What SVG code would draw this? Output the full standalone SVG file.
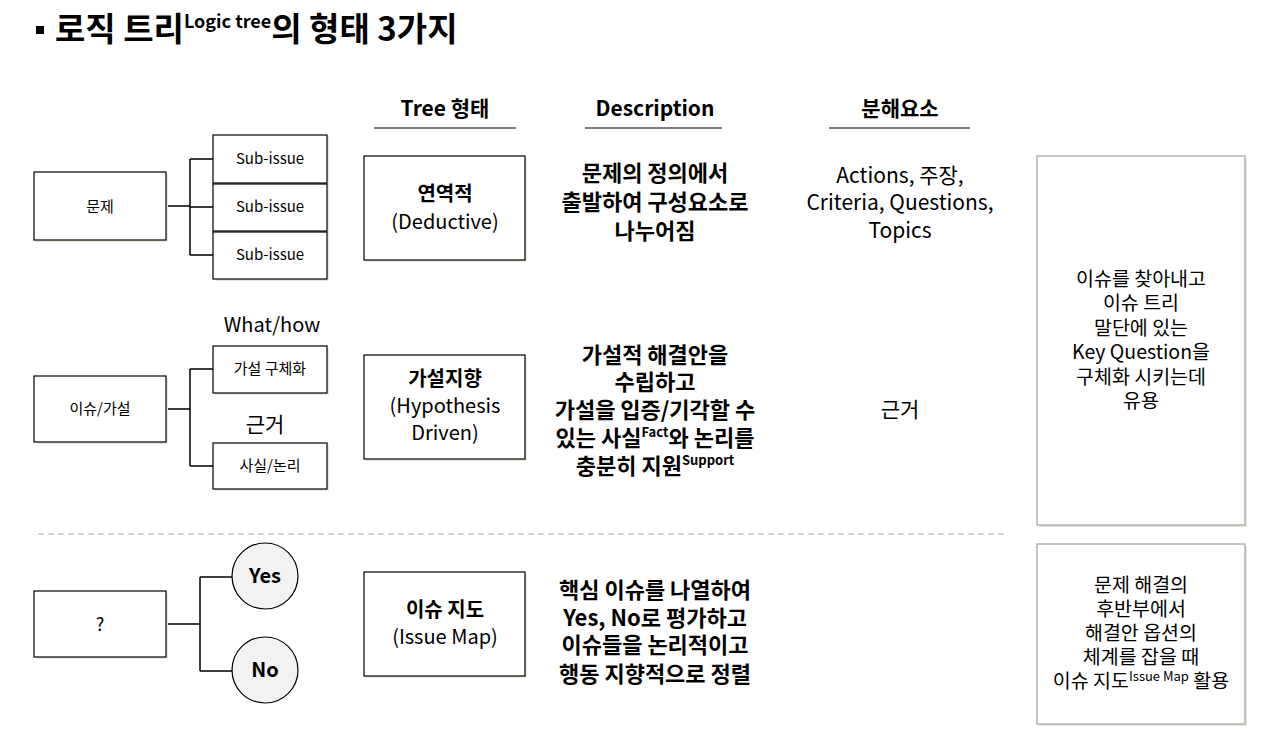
<svg xmlns="http://www.w3.org/2000/svg" width="1280" height="742" viewBox="0 0 1280 742">
<style>
text{font-family:"Noto Sans CJK KR","Noto Sans",sans-serif;fill:#000;text-anchor:middle}
.b{font-weight:bold}
.box{fill:#fff;stroke:#000;stroke-width:1.2}
.sh{fill:#e9e6dc}
.gbox{fill:#fff;stroke:#a0a0a0;stroke-width:1.2}
.ln{fill:none;stroke:#000;stroke-width:1.5}
.s15{font-size:15px}
.s20{font-size:20px}
.s21{font-size:21px}
.s22{font-size:22px}
.s18{font-size:18px}
.s19{font-size:19.5px}
</style>
<rect width="1280" height="742" fill="#fff"/>
<g id="title">
<rect x="36" y="26" width="8" height="8" fill="#000"/>
<text x="55" y="41" class="b" style="font-size:33px;text-anchor:start">로직 트리<tspan style="font-size:18px" dy="-13">Logic tree</tspan><tspan dy="13">의 형태 3가지</tspan></text>
</g>
<g id="headers">
<text x="445" y="116" class="b s21">Tree 형태</text>
<line x1="374" y1="128" x2="516" y2="128" stroke="#000" stroke-width="1.2"/>
<text x="655" y="116" class="b s21">Description</text>
<line x1="585" y1="128" x2="722" y2="128" stroke="#000" stroke-width="1.2"/>
<text x="900" y="116" class="b s21">분해요소</text>
<line x1="829" y1="128" x2="970" y2="128" stroke="#000" stroke-width="1.2"/>
</g>
<g id="connectors">
<path class="ln" d="M166,206H190M190,159V255M190,159H213M190,207H213M190,255H213"/>
<path class="ln" d="M166,409H190M190,369V466M190,369H213M190,466H213"/>
<path class="ln" d="M166,624H200M200,577V671M200,577H232M200,671H232"/>
</g>
<g id="n-munje"><rect class="sh" x="36" y="174" width="132" height="68"/><rect class="box" x="34" y="172" width="132" height="68"/><text x="100" y="212" class="s15">문제</text></g>
<g id="n-sub1"><rect class="sh" x="215" y="137" width="114" height="48"/><rect class="box" x="213" y="135" width="114" height="48"/><text x="270" y="164" class="s15">Sub-issue</text></g>
<g id="n-sub2"><rect class="sh" x="215" y="186" width="114" height="47"/><rect class="box" x="213" y="184" width="114" height="47"/><text x="270" y="212" class="s15">Sub-issue</text></g>
<g id="n-sub3"><rect class="sh" x="215" y="234" width="114" height="47"/><rect class="box" x="213" y="232" width="114" height="47"/><text x="270" y="260" class="s15">Sub-issue</text></g>
<g id="n-issue"><rect class="sh" x="36" y="378" width="132" height="66"/><rect class="box" x="34" y="376" width="132" height="66"/><text x="100" y="414" class="s15">이슈/가설</text></g>
<g id="lbl-whathow"><text x="272" y="332" class="s20">What/how</text></g>
<g id="n-hyp"><rect class="sh" x="215" y="348" width="114" height="47"/><rect class="box" x="213" y="346" width="114" height="47"/><text x="270" y="374" class="s15">가설 구체화</text></g>
<g id="lbl-geunge"><text x="265" y="432" class="s21">근거</text></g>
<g id="n-fact"><rect class="sh" x="215" y="445" width="114" height="46"/><rect class="box" x="213" y="443" width="114" height="46"/><text x="270" y="471" class="s15">사실/논리</text></g>
<line x1="38" y1="534" x2="1005" y2="534" stroke="#a6a6a6" stroke-width="1.2" stroke-dasharray="6,4"/>
<g id="n-q"><rect class="sh" x="36" y="593" width="132" height="66"/><rect class="box" x="34" y="591" width="132" height="66"/><text x="100" y="631" class="s18">?</text></g>
<g id="n-yes"><circle cx="265" cy="576" r="33" fill="#f2f2f2" stroke="#000" stroke-width="1.2"/><text x="265" y="583" class="b s20">Yes</text></g>
<g id="n-no"><circle cx="265" cy="670" r="33" fill="#f2f2f2" stroke="#000" stroke-width="1.2"/><text x="265" y="677" class="b s20">No</text></g>
<g id="n-deductive"><rect class="sh" x="366" y="158" width="161" height="104"/><rect class="box" x="364" y="156" width="161" height="104"/><text x="445" y="201" class="b s20">연역적</text><text x="445" y="229" class="s20">(Deductive)</text></g>
<g id="n-hypdriven"><rect class="sh" x="366" y="357" width="161" height="104"/><rect class="box" x="364" y="355" width="161" height="104"/><text x="445" y="386" class="b s20">가설지향</text><text x="445" y="413" class="s20">(Hypothesis</text><text x="445" y="440" class="s20">Driven)</text></g>
<g id="n-issuemap"><rect class="sh" x="366" y="574" width="161" height="104"/><rect class="box" x="364" y="572" width="161" height="104"/><text x="445" y="617" class="b s20">이슈 지도</text><text x="445" y="644" class="s20">(Issue Map)</text></g>
<g id="desc1" class="b s22"><text x="655" y="181">문제의 정의에서</text><text x="655" y="210">출발하여 구성요소로</text><text x="655" y="239">나누어짐</text></g>
<g id="desc2" class="b s22"><text x="655" y="363">가설적 해결안을</text><text x="655" y="390">수립하고</text><text x="655" y="418">가설을 입증/기각할 수</text><text x="655" y="446">있는 사실<tspan style="font-size:13px" dy="-9">Fact</tspan><tspan dy="9">와 논리를</tspan></text><text x="655" y="474">충분히 지원<tspan style="font-size:13px" dy="-9">Support</tspan></text></g>
<g id="desc3" class="b s22"><text x="655" y="598">핵심 이슈를 나열하여</text><text x="655" y="626">Yes, No로 평가하고</text><text x="655" y="653">이슈들을 논리적이고</text><text x="655" y="682">행동 지향적으로 정렬</text></g>
<g id="elem1" class="s21"><text x="900" y="183">Actions, 주장,</text><text x="900" y="210">Criteria, Questions,</text><text x="900" y="238">Topics</text></g>
<g id="elem2"><text x="900" y="417" class="s21">근거</text></g>
<g id="n-note1"><rect class="sh" x="1039" y="158" width="208" height="369"/><rect class="gbox" x="1037" y="156" width="208" height="369"/>
<g class="s19"><text x="1141" y="286">이슈를 찾아내고</text><text x="1141" y="310">이슈 트리</text><text x="1141" y="335">말단에 있는</text><text x="1141" y="359">Key Question을</text><text x="1141" y="384">구체화 시키는데</text><text x="1141" y="408">유용</text></g></g>
<g id="n-note2"><rect class="sh" x="1039" y="546" width="208" height="180"/><rect class="gbox" x="1037" y="544" width="208" height="180"/>
<g class="s19"><text x="1141" y="592">문제 해결의</text><text x="1141" y="616">후반부에서</text><text x="1141" y="640">해결안 옵션의</text><text x="1141" y="664">체계를 잡을 때</text><text x="1141" y="688">이슈 지도<tspan style="font-size:13px" dy="-7">Issue Map</tspan><tspan dy="7"> 활용</tspan></text></g></g>
</svg>
